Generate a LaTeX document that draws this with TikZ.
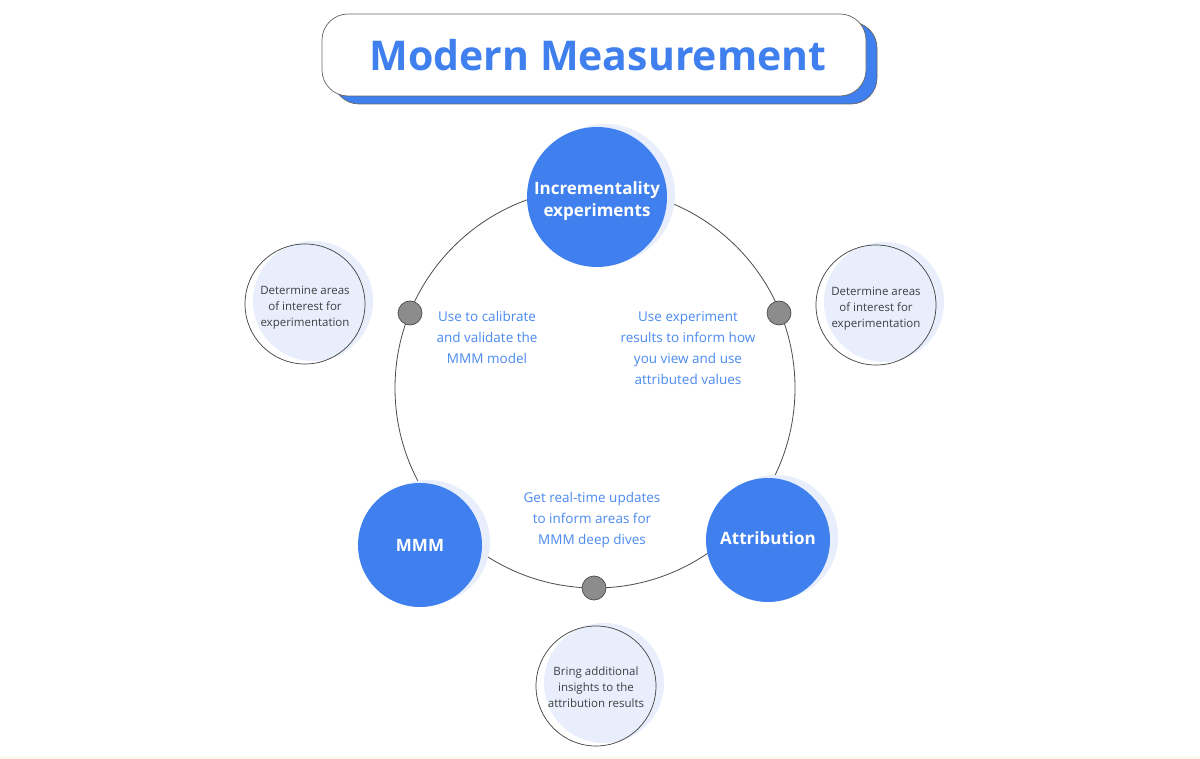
\documentclass[tikz,border=0pt]{standalone}
\usepackage{fontspec}
\setmainfont{Open Sans}
\usetikzlibrary{shadows}

\definecolor{gblue}{HTML}{3F80EE}
\definecolor{noteblue}{HTML}{4A8AF0}
\definecolor{paleblue}{HTML}{E8EEFC}
\definecolor{dotgray}{HTML}{8C8C8C}
\definecolor{textgray}{HTML}{3C4043}
\definecolor{strip}{HTML}{FFFAEB}

\newcommand{\lowtext}[2]{\raisebox{#1}[\height][\depth]{\begin{tabular}{@{}c@{}}#2\end{tabular}}}

\begin{document}
\begin{tikzpicture}[x = 1pt, y = -1pt,
		stage/.style = {circle, fill=gblue, text=white, inner sep=0pt, align=center,
			font=\fontsize{17}{22}\selectfont\bfseries,
			general shadow={fill=paleblue, shadow xshift=8pt, shadow yshift=3pt}},
		hint/.style = {circle, draw=black!75, line width=0.7pt, inner sep=0pt,
			minimum size=120pt, align=center, text=textgray,
			font=\fontsize{11.5}{16}\selectfont,
			preaction={fill=white},
			general shadow={fill=paleblue, shadow xshift=8pt, shadow yshift=3pt}},
		joint/.style = {circle, fill=dotgray, draw=black!70, line width=0.7pt, minimum size=24pt, inner sep=0pt},
		note/.style = {text=noteblue, align=center, font=\fontsize{13.5}{21}\selectfont},
	]
		
		\useasboundingbox (0,0) rectangle (1200,759);
		\fill[white] (0,0) rectangle (1200,759);
		\fill[strip] (0,756) rectangle (1200,759);
		
		% title
		\node[draw=black!60, fill=white, line width=0.7pt, rounded corners=26pt,
			minimum width=544pt, minimum height=82pt,
			general shadow={fill=gblue, draw=black!60, shadow xshift=11pt, shadow yshift=-8pt},
			text=gblue, font=\fontsize{41}{46}\selectfont\bfseries] (title) at (594,55) {\hspace{8pt}Modern Measurement};
		
		% ring
		\coordinate (O) at (595,388);
		\draw[draw=black!70, line width=0.8pt] (O) circle (200pt);
		
		\node[joint] (JL) at (410,313) {};
		\node[joint] (JR) at (779,313) {};
		\node[joint] (JB) at (594,588) {};
		
		\node[stage, minimum size=140pt] (INC) at (597,197) {\lowtext{-4pt}{Incrementality\\experiments}};
		\node[stage, minimum size=124pt] (MMM) at (420,545) {MMM};
		\node[stage, minimum size=124pt] (ATT) at (768,540) {\lowtext{0pt}{Attribution}};
		
		\node[hint] (HL) at (305,304) {\lowtext{-3pt}{Determine areas\\of interest for\\experimentation}};
		\node[hint] (HR) at (876,305) {\lowtext{-3pt}{Determine areas\\of interest for\\experimentation}};
		\node[hint] (HB) at (596,686) {\lowtext{-2pt}{Bring additional\\insights to the\\attribution results}};
		
		\node[note] (NL) at (487,337) {Use to calibrate\\and validate the\\MMM model};
		\node[note] (NR) at (688,348) {Use experiment\\results to inform how\\you view and use\\attributed values};
		\node[note] (NB) at (592,520) {Get real-time updates\\to inform areas for\\MMM deep dives};
		
	\end{tikzpicture}
\end{document}
